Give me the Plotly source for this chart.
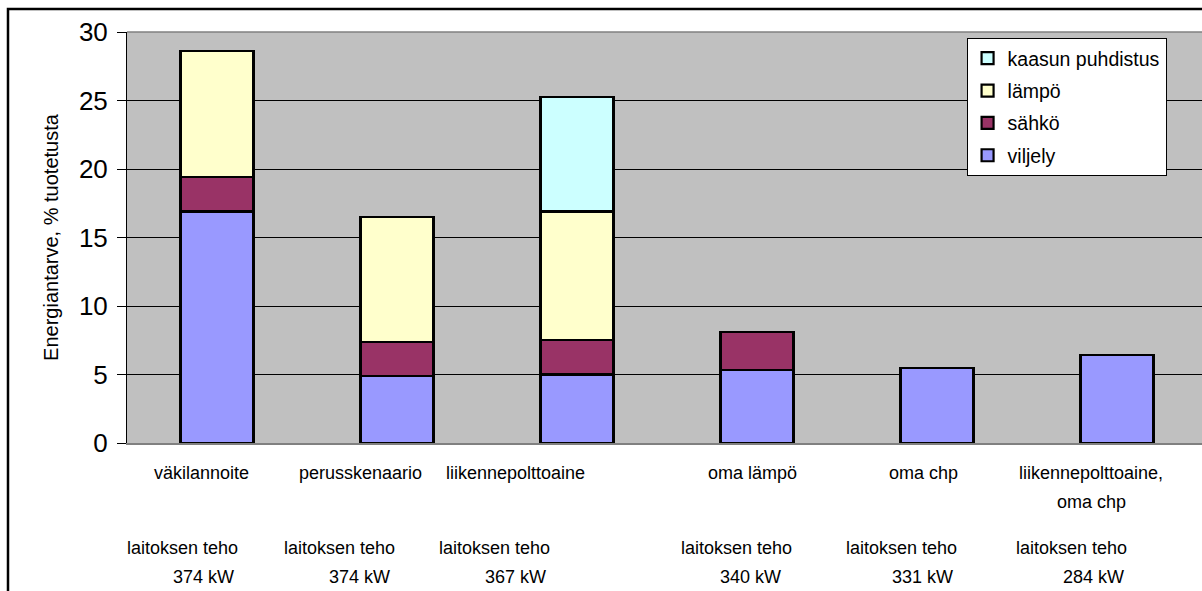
import plotly.graph_objects as go

# Scenarios and their energy demand components (% of produced energy)
scenarios = ["väkilannoite", "perusskenaario", "liikennepolttoaine",
             "oma lämpö", "oma chp", "liikennepolttoaine,\noma chp"]
viljely = [16.9, 4.9, 5.0, 5.3, 5.45, 6.4]
sahko = [2.5, 2.5, 2.5, 2.8, 0, 0]
lampo = [9.2, 9.1, 9.4, 0, 0, 0]
kaasun_puhdistus = [0, 0, 8.35, 0, 0, 0]
teho_kw = [374, 374, 367, 340, 331, 284]

series = [
    ("viljely", viljely, "#9999FF"),
    ("sähkö", sahko, "#993366"),
    ("lämpö", lampo, "#FFFFCC"),
    ("kaasun puhdistus", kaasun_puhdistus, "#CCFFFF"),
]

FONT = "Arial, Liberation Sans, sans-serif"
x_idx = list(range(len(scenarios)))

fig = go.Figure()
for k, (name, vals, color) in enumerate(series):
    fig.add_trace(go.Bar(
        x=x_idx, y=vals, name=name, legendgroup=name,
        legendrank=1000 - k,  # top segment listed first in the legend
        marker=dict(color=color, line=dict(color="black", width=2.2)),
        width=0.405,
    ))

# horizontal pixel shifts of the label lines relative to each bar centre
name_shift = [-16, -37, -62, -5, -14, -26]
teho_shift = [-35, -58, -83, -21, -36, -46]
kw_shift = [-14, -38, -62, -7, -15, -24]

LABEL_SIZE = 18
annotations = []
for i, label in enumerate(scenarios):
    for j, line in enumerate(label.split("\n")):
        annotations.append(dict(
            x=i, y=0, xref="x", yref="y", text=line, showarrow=False,
            xanchor="center", yanchor="middle",
            xshift=name_shift[i], yshift=-30 - 29 * j,
            font=dict(family=FONT, size=LABEL_SIZE, color="black"),
        ))
    annotations.append(dict(
        x=i, y=0, xref="x", yref="y", text="laitoksen teho", showarrow=False,
        xanchor="center", yanchor="middle", xshift=teho_shift[i], yshift=-105,
        font=dict(family=FONT, size=LABEL_SIZE, color="black"),
    ))
    annotations.append(dict(
        x=i, y=0, xref="x", yref="y", text=f"{teho_kw[i]} kW", showarrow=False,
        xanchor="center", yanchor="middle", xshift=kw_shift[i], yshift=-134,
        font=dict(family=FONT, size=LABEL_SIZE, color="black"),
    ))

shapes = [
    # outer chart frame
    dict(type="rect", xref="paper", yref="paper", x0=-0.1107, x1=1.2,
         y0=-1.0, y1=1.056, line=dict(color="black", width=2.5),
         fillcolor="rgba(0,0,0,0)", layer="above"),
    # plot area top edge
    dict(type="line", xref="paper", yref="paper", x0=0, x1=1, y0=1, y1=1,
         line=dict(color="#808080", width=1.5), layer="above"),
]

fig.update_layout(
    width=1202, height=591, autosize=False,
    margin=dict(l=127, r=0, t=32, b=148),
    barmode="stack", bargap=0.595,
    plot_bgcolor="#C0C0C0", paper_bgcolor="white",
    font=dict(family=FONT, color="black"),
    showlegend=True,
    legend=dict(
        x=0.781, y=0.9854, xanchor="left", yanchor="top",
        traceorder="grouped", tracegroupgap=4,
        bgcolor="white", bordercolor="black", borderwidth=1,
        font=dict(family=FONT, size=19.5, color="black"),
    ),
    xaxis=dict(
        range=[-0.5, 5.472], showticklabels=False, showgrid=False,
        showline=True, linecolor="#808080", linewidth=2, zeroline=False,
        fixedrange=True,
    ),
    yaxis=dict(
        range=[0, 30], dtick=5, showgrid=True, gridcolor="black", gridwidth=1,
        showline=True, linecolor="black", linewidth=1, zeroline=False,
        ticks="outside", ticklen=9, tickcolor="black", tickwidth=1,
        ticklabelstandoff=4,
        tickfont=dict(family=FONT, size=26, color="black"),
        title=dict(text="Energiantarve, % tuotetusta", standoff=14,
                   font=dict(family=FONT, size=20, color="black")),
    ),
    annotations=annotations,
    shapes=shapes,
)

fig.write_html("out.html")
